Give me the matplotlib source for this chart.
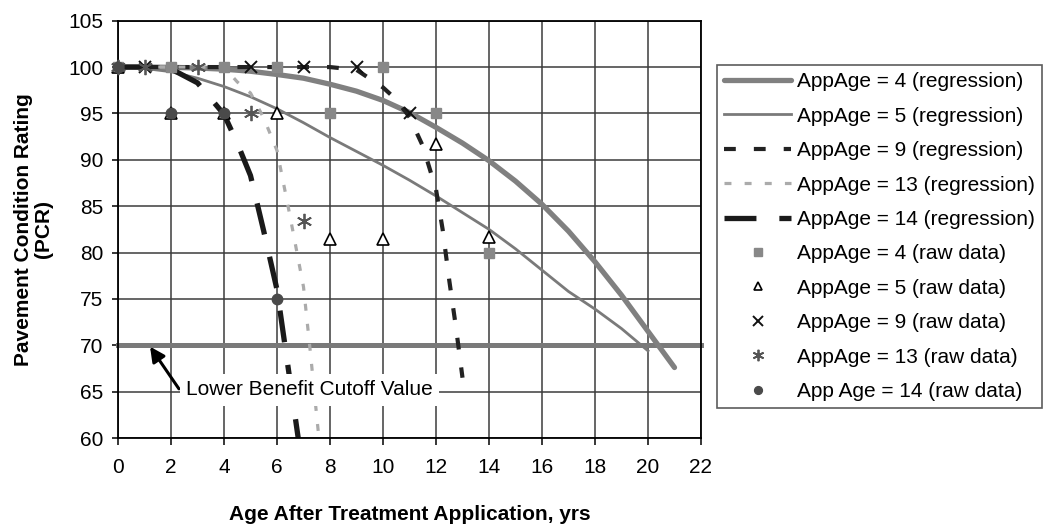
import matplotlib
matplotlib.use("Agg")
import matplotlib.pyplot as plt

plt.rcParams['font.family'] = ['Liberation Sans', 'DejaVu Sans']
plt.rcParams['lines.scale_dashes'] = False

# ---- regression curves ----
reg4_t = [0, 1, 2, 3, 4, 5, 6, 7, 8, 9, 10, 11, 12, 13, 14, 15, 16, 17, 18, 19, 20, 21]
reg4_y = [100, 100, 99.97, 99.9, 99.77, 99.55, 99.2, 98.8, 98.15, 97.4, 96.4, 95.1,
          93.5, 91.8, 89.9, 87.7, 85.2, 82.3, 79.0, 75.4, 71.5, 67.6]

reg5_t = [0, 1, 2, 3, 4, 5, 6, 7, 8, 9, 10, 11, 12, 13, 14, 15, 16, 17, 18, 19, 20]
reg5_y = [100, 99.85, 99.5, 98.8, 97.9, 96.8, 95.5, 94.0, 92.4, 90.9, 89.4, 87.8,
          86.1, 84.3, 82.5, 80.4, 78.1, 75.8, 73.9, 71.8, 69.4]

reg9_t = [0, 1, 2, 3, 4, 5, 6, 7, 8, 9, 10, 10.5, 11, 11.5, 12, 12.25, 12.5, 12.75, 13]
reg9_y = [100, 100, 100, 100, 100, 100, 100, 100, 100, 99.7, 97.8, 96.5, 94.6, 91.5,
          86.8, 82.5, 77.0, 72.0, 66.5]

reg13_t = [0, 1, 2, 3, 4, 4.5, 5, 5.5, 6, 6.5, 7, 7.25, 7.5, 7.6]
reg13_y = [100, 100, 100, 100, 100, 98.4, 97.2, 94.5, 91.0, 83.8, 76.3, 69.5, 62.3, 59.5]

reg14_t = [0, 1, 2, 3, 4, 4.5, 5, 5.5, 6, 6.3, 6.5, 6.8, 7]
reg14_y = [100, 100, 99.8, 98.3, 94.9, 91.8, 88.3, 82.3, 76.0, 70.0, 66.0, 60.0, 55.5]

# ---- raw data ----
raw4_t = [0, 2, 4, 6, 8, 10, 12, 14]
raw4_y = [100, 100, 100, 100, 95, 100, 95, 80]
raw5_t = [0, 2, 4, 6, 8, 10, 12, 14]
raw5_y = [100, 95, 95, 95, 81.5, 81.5, 91.7, 81.7]
raw9_t = [1, 5, 7, 9, 11]
raw9_y = [100, 100, 100, 100, 95]
raw13_t = [0, 1, 3, 5, 7]
raw13_y = [100, 100, 100, 95, 83.4]
raw14_t = [0, 2, 4, 6]
raw14_y = [100, 95, 95, 75]

cutoff_value = 70
x_ticks = list(range(0, 23, 2))
y_ticks = list(range(60, 106, 5))

fig = plt.figure(figsize=(10.44, 5.25), dpi=100)
ax = fig.add_axes([118/1044, 1-438/525, (701-118)/1044, (438-20.7)/525])

grid_c = '#3c3c3c'
ax.set_axisbelow(True)
ax.grid(True, color=grid_c, lw=1.1)

ax.axhline(cutoff_value, color='#7a7a7a', lw=3.6, zorder=2, clip_on=False)

l4, = ax.plot(reg4_t, reg4_y, color='#808080', lw=3.8, zorder=2,
              solid_capstyle='round', label='AppAge = 4 (regression)')
l5, = ax.plot(reg5_t, reg5_y, color='#7a7a7a', lw=2.0, zorder=2,
              label='AppAge = 5 (regression)')
l9, = ax.plot(reg9_t, reg9_y, color='#222222', lw=3.0, zorder=2,
              dashes=(8.5, 13), label='AppAge = 9 (regression)')
l13, = ax.plot(reg13_t, reg13_y, color='#ababab', lw=2.3, zorder=2,
               dashes=(5, 9.5), label='AppAge = 13 (regression)')
l14, = ax.plot(reg14_t, reg14_y, color='#1a1a1a', lw=3.8, zorder=2,
               dashes=(23, 16.5), label='AppAge = 14 (regression)')

m4, = ax.plot(raw4_t, raw4_y, ls='none', marker='s', ms=7, color='#888888',
              zorder=4, clip_on=False, label='AppAge = 4 (raw data)')
m5, = ax.plot(raw5_t, raw5_y, ls='none', marker='^', ms=8, mfc='white',
              mec='black', mew=1.2, zorder=4, clip_on=False, label='AppAge = 5 (raw data)')
m9, = ax.plot(raw9_t, raw9_y, ls='none', marker='x', ms=9, mec='#111111',
              mew=1.4, zorder=4, clip_on=False, label='AppAge = 9 (raw data)')
m13, = ax.plot(raw13_t, raw13_y, ls='none', marker=(6, 2, 0), ms=11, mec='#555555',
               mew=1.3, zorder=4, clip_on=False, label='AppAge = 13 (raw data)')
m14, = ax.plot(raw14_t, raw14_y, ls='none', marker='o', ms=7.5, color='#4a4a4a',
               zorder=4, clip_on=False, label='App Age = 14 (raw data)')

ax.set_xlim(0, 22)
ax.set_ylim(60, 105)
ax.set_xticks(x_ticks)
ax.set_yticks(y_ticks)
ax.tick_params(axis='both', labelsize=15, colors='black')
ax.tick_params(axis='x', direction='out', length=5, width=1.1, pad=9.5)
ax.tick_params(axis='y', direction='out', length=4.5, width=1.1, pad=6)
for s in ax.spines.values():
    s.set_color('black')
    s.set_linewidth(1.3)

ax.set_xlabel('Age After Treatment Application, yrs', fontsize=15, fontweight='bold',
              labelpad=20)
ax.set_ylabel('Pavement Condition Rating\n(PCR)', fontsize=15, fontweight='bold',
              labelpad=11, linespacing=1.05)

# annotation
ax.annotate('', xy=(1.21, 69.85), xytext=(2.3, 65.3),
            arrowprops=dict(arrowstyle='-|>', color='black', lw=2.2,
                            mutation_scale=22, shrinkA=0, shrinkB=0), zorder=5)
ax.text(7.24, 65.2, 'Lower Benefit Cutoff Value', fontsize=15, ha='center',
        va='center', zorder=6,
        bbox=dict(boxstyle='square,pad=0.3', fc='white', ec='none'))

leg = fig.legend(handles=[l4, l5, l9, l13, l14, m4, m5, m9, m13, m14],
                 loc='upper left', bbox_to_anchor=(717/1044, 1-65/525),
                 bbox_transform=fig.transFigure, fontsize=15, frameon=True,
                 fancybox=False, shadow=False, borderaxespad=0, borderpad=0.35,
                 handlelength=3.2, handletextpad=0.3, labelspacing=0.74,
                 markerscale=0.75)
leg.get_frame().set_edgecolor('#333333')
leg.get_frame().set_linewidth(1.2)

fig.savefig('out.png', dpi=100)
